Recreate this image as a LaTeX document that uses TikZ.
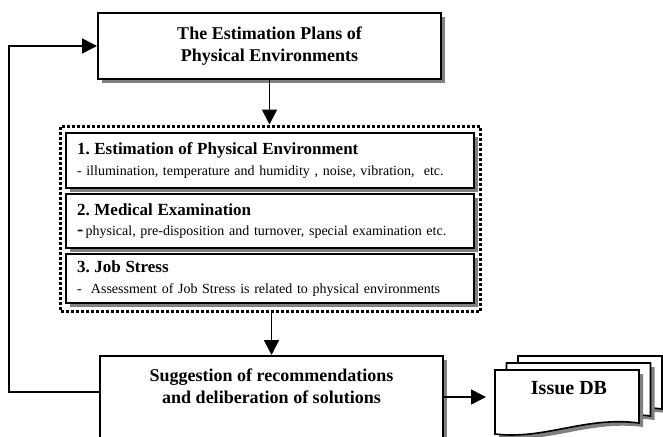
\documentclass[tikz,border=0pt]{standalone}
\usepackage{fontspec}
\setmainfont{Liberation Serif}
\usetikzlibrary{arrows.meta,shadows,calc}
\definecolor{shadowgray}{HTML}{808080}
\newcommand\mydocshape[2]{%
  \fill[shadowgray] (#1+4,#2+4) -- (#1+148,#2+4) -- (#1+148,#2+57)
     .. controls (#1+94,#2+50) and (#1+54,#2+74) .. (#1+4,#2+68) -- cycle;
  \draw[line width=1.6pt, fill=white] (#1,#2) -- (#1+144,#2) -- (#1+144,#2+53)
     .. controls (#1+90,#2+46) and (#1+50,#2+70) .. (#1,#2+64) -- cycle;}
\begin{document}
\frenchspacing
\begin{tikzpicture}[x=1pt,y=-1pt,
  boxstyle/.style={draw=black, line width=2pt, fill=white, align=center,
    drop shadow={shadow xshift=4pt, shadow yshift=-4pt, opacity=1, fill=shadowgray}},
  innerbox/.style={draw=black, line width=2pt, fill=white, align=left,
    text width=386pt, inner xsep=11pt, inner ysep=0pt,
    font=\fontsize{14}{20.5}\selectfont\frenchspacing,
    drop shadow={shadow xshift=3.5pt, shadow yshift=-3.5pt, opacity=1, fill=shadowgray}},
  framestyle/.style={draw=black, line width=3pt, dash pattern=on 3pt off 2pt, inner sep=0pt},
  conn/.style={draw=black, line width=1.6pt, -{Triangle[length=15pt,width=15pt]}},
]
\useasboundingbox (0,0) rectangle (663,436);
\clip (0,0) rectangle (663,436);

% top box
\node[boxstyle, minimum width=343pt, minimum height=66pt,
  font=\fontsize{18}{21.5}\selectfont\bfseries] (top) at (269.5,46)
  {The Estimation Plans of\\Physical Environments};

% dotted frame
\node[framestyle, minimum width=419.5pt, minimum height=185pt] (frame) at (270.25,218.5) {};

% inner boxes
\node[innerbox, minimum height=55pt] (b1) at (270,160.5)
  {{\fontsize{17}{20}\selectfont\bfseries 1. Estimation of Physical Environment}\\
   - illumination, temperature and humidity , noise, vibration,\ \ etc.};
\node[innerbox, minimum height=54pt] (b2) at (270,221)
  {{\fontsize{17}{20}\selectfont\bfseries 2. Medical Examination}\\
   {\fontsize{19}{19}\selectfont\bfseries -}\,physical, pre-disposition and turnover, special examination etc.};
\node[innerbox, minimum height=49pt] (b3) at (270,278.5)
  {{\fontsize{17}{20}\selectfont\bfseries 3. Job Stress}\\
   -\ \ Assessment of Job Stress is related to physical environments};

% bottom box
\node[boxstyle, minimum width=343pt, minimum height=120pt, anchor=north] (bottom) at (271.5,355) {};
\node[align=center, font=\fontsize{18}{22}\selectfont\bfseries] (bottomtext) at (271.5,386)
  {Suggestion of recommendations\\and deliberation of solutions};

% Issue DB documents
\mydocshape{518}{356}
\mydocshape{506.5}{363}
\mydocshape{495}{370}
\node[font=\fontsize{20}{24}\selectfont\bfseries] (db) at (569,388) {Issue DB};

% connectors
\coordinate (fb) at (9,392);
\coordinate (dbtip) at (486,397);
\draw[conn] (top.south) -- (top.south |- frame.north);
\draw[conn] (bottom.north |- frame.south) -- (bottom.north);
\draw[conn] (bottom.west |- fb) -- (fb) |- (top.west);
\draw[conn] (bottom.east |- dbtip) -- (dbtip);
\end{tikzpicture}
\end{document}
